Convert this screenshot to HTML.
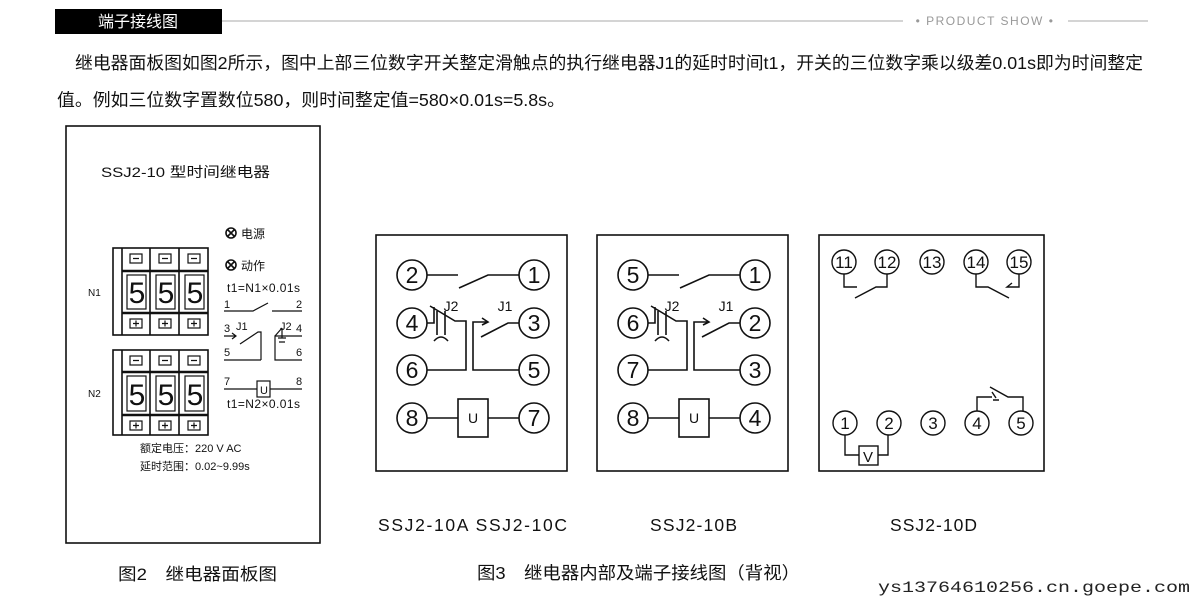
<!DOCTYPE html>
<html><head><meta charset="utf-8"><style>
html,body{margin:0;padding:0;background:#fff;width:1200px;height:603px;overflow:hidden}
svg text{font-family:"Liberation Sans","Noto Sans CJK SC",sans-serif;fill:#111}
</style></head><body>
<svg width="1200" height="603" viewBox="0 0 1200 603" xmlns="http://www.w3.org/2000/svg">
<defs>
<g id="AL" stroke="#111" fill="none" stroke-width="1.6">
<rect x="376" y="235" width="191" height="236"/>
<path d="M427 275H458M459 288L488 275H519"/>
<path d="M427 323H434V307M430 306L455 321H466V370H427"/>
<path d="M437 311V335M445 311V335M434 341q7-8 14 0"/>
<path d="M519 323H508L481 337M519 370H473V322H488M482 318l6 4-6 3"/>
<path d="M427 418H458M488 418H519"/><rect x="458" y="399" width="30" height="38"/>
<circle cx="412" cy="275" r="15"/><circle cx="534" cy="275" r="15"/>
<circle cx="412" cy="323" r="15"/><circle cx="534" cy="323" r="15"/>
<circle cx="412" cy="370" r="15"/><circle cx="534" cy="370" r="15"/>
<circle cx="412" cy="418" r="15"/><circle cx="534" cy="418" r="15"/>
</g>
</defs>
<rect x="55" y="9" width="167" height="25" fill="#000"/>
<text x="138" y="27" font-size="16" text-anchor="middle" style="fill:#fff">端子接线图</text>
<line x1="222" y1="21" x2="903" y2="21" stroke="#bbb" stroke-width="1.2"/>
<text x="985" y="25" font-size="12" text-anchor="middle" style="fill:#999;letter-spacing:1.5px">• PRODUCT SHOW •</text>
<line x1="1068" y1="21" x2="1148" y2="21" stroke="#bbb" stroke-width="1.2"/>
<text x="75" y="69" font-size="17.5" textLength="1068" lengthAdjust="spacingAndGlyphs">继电器面板图如图2所示，图中上部三位数字开关整定滑触点的执行继电器J1的延时时间t1，开关的三位数字乘以级差0.01s即为时间整定</text>
<text x="57" y="106" font-size="17.5" textLength="508" lengthAdjust="spacingAndGlyphs">值。例如三位数字置数位580，则时间整定值=580×0.01s=5.8s。</text>

<g stroke="#111" fill="none" stroke-width="1.6">
<rect x="66" y="126" width="254" height="417"/>
<rect x="113" y="248" width="95" height="87"/>
<line x1="122" y1="248" x2="122" y2="335"/>
<line x1="150" y1="248" x2="150" y2="335"/><line x1="179" y1="248" x2="179" y2="335"/>
<line x1="122" y1="271" x2="208" y2="271" stroke-width="2.5"/><line x1="122" y1="313" x2="208" y2="313" stroke-width="2.5"/>
<rect x="113" y="350" width="95" height="85"/>
<line x1="122" y1="350" x2="122" y2="435"/>
<line x1="150" y1="350" x2="150" y2="435"/><line x1="179" y1="350" x2="179" y2="435"/>
<line x1="122" y1="372" x2="208" y2="372" stroke-width="2.5"/><line x1="122" y1="415" x2="208" y2="415" stroke-width="2.5"/>
<g stroke-width="1.2">
<rect x="130" y="254" width="12" height="9"/><rect x="159" y="254" width="12" height="9"/><rect x="188" y="254" width="12" height="9"/>
<rect x="130" y="319" width="12" height="9"/><rect x="159" y="319" width="12" height="9"/><rect x="188" y="319" width="12" height="9"/>
<rect x="130" y="356" width="12" height="9"/><rect x="159" y="356" width="12" height="9"/><rect x="188" y="356" width="12" height="9"/>
<rect x="130" y="421" width="12" height="9"/><rect x="159" y="421" width="12" height="9"/><rect x="188" y="421" width="12" height="9"/>
<rect x="127" y="275" width="19" height="34"/><rect x="156" y="275" width="19" height="34"/><rect x="185" y="275" width="19" height="34"/>
<rect x="127" y="376" width="19" height="35"/><rect x="156" y="376" width="19" height="35"/><rect x="185" y="376" width="19" height="35"/>
<path d="M133 258.5h6M162 258.5h6M191 258.5h6M133 360.5h6M162 360.5h6M191 360.5h6"/>
<path d="M133 323.5h6M136 320.5v6M162 323.5h6M165 320.5v6M191 323.5h6M194 320.5v6"/>
<path d="M133 425.5h6M136 422.5v6M162 425.5h6M165 422.5v6M191 425.5h6M194 422.5v6"/>
</g>
<circle cx="231" cy="233" r="5"/><path d="M227.5 229.5l7 7M234.5 229.5l-7 7"/>
<circle cx="231" cy="265" r="5"/><path d="M227.5 261.5l7 7M234.5 261.5l-7 7"/>
<g stroke-width="1.2">
<path d="M224 311H253L268 303M272 311H302"/>
<path d="M224 336H236M232 333l4 3-4 3M240 344L258 332H261V360"/><path d="M224 360H261"/>
<path d="M302 336H275V360H302"/><path d="M275 336l7 -8M282 328v10M278 338h8M279 342h6"/>
<path d="M224 389H257M270 389H302"/><rect x="257" y="381" width="13" height="16"/>
</g>
</g>
<g font-size="30" text-anchor="middle">
<text x="137" y="303">5</text><text x="166" y="303">5</text><text x="195" y="303">5</text>
<text x="137" y="405">5</text><text x="166" y="405">5</text><text x="195" y="405">5</text>
</g>
<text x="101" y="177" font-size="14" textLength="169" lengthAdjust="spacingAndGlyphs">SSJ2-10 型时间继电器</text>
<text x="88" y="296" font-size="10">N1</text><text x="88" y="397" font-size="10">N2</text>
<text x="241" y="238" font-size="12">电源</text><text x="241" y="270" font-size="12">动作</text>
<text x="227" y="292" font-size="12" textLength="73">t1=N1×0.01s</text>
<text x="227" y="408" font-size="12" textLength="73">t1=N2×0.01s</text>
<g font-size="11"><text x="224" y="308">1</text><text x="296" y="308">2</text>
<text x="224" y="332">3</text><text x="236" y="330">J1</text><text x="280" y="330">J2</text><text x="296" y="332">4</text>
<text x="224" y="356">5</text><text x="296" y="356">6</text><text x="224" y="385">7</text><text x="296" y="385">8</text>
<text x="260" y="394">U</text></g>
<text x="140" y="452" font-size="11">额定电压：220 V AC</text>
<text x="140" y="470" font-size="11">延时范围：0.02~9.99s</text>
<text x="118" y="580" font-size="17" textLength="159" lengthAdjust="spacingAndGlyphs">图2　继电器面板图</text>

<use href="#AL"/>
<use href="#AL" x="221"/>
<g font-size="23" text-anchor="middle">
<text x="412" y="283">2</text><text x="534" y="283">1</text><text x="412" y="331">4</text><text x="534" y="331">3</text>
<text x="412" y="378">6</text><text x="534" y="378">5</text><text x="412" y="426">8</text><text x="534" y="426">7</text>
<text x="473" y="423" font-size="14">U</text>
<text x="451" y="311" font-size="14">J2</text><text x="505" y="311" font-size="14">J1</text>
<text x="633" y="283">5</text><text x="755" y="283">1</text><text x="633" y="331">6</text><text x="755" y="331">2</text>
<text x="633" y="378">7</text><text x="755" y="378">3</text><text x="633" y="426">8</text><text x="755" y="426">4</text>
<text x="694" y="423" font-size="14">U</text>
<text x="672" y="311" font-size="14">J2</text><text x="726" y="311" font-size="14">J1</text>
</g>

<g stroke="#111" fill="none" stroke-width="1.4">
<rect x="819" y="235" width="225" height="236" stroke-width="1.6"/>
<circle cx="844" cy="262" r="12"/><circle cx="887" cy="262" r="12"/><circle cx="932" cy="262" r="12"/><circle cx="976" cy="262" r="12"/><circle cx="1019" cy="262" r="12"/>
<circle cx="845" cy="423" r="12"/><circle cx="889" cy="423" r="12"/><circle cx="933" cy="423" r="12"/><circle cx="977" cy="423" r="12"/><circle cx="1021" cy="423" r="12"/>
<path d="M844 274V287H857M887 274V287H876L855 298"/>
<path d="M976 274V287H988L1009 298M1019 274V287H1007l5-4"/>
<path d="M845 435V455H859M878 455H888V435"/><rect x="859" y="446" width="19" height="19"/>
<path d="M977 411V397H992M990 387L1008 397H1023V411M992 392l4 6M993 400h6"/>
</g>
<g font-size="17" text-anchor="middle">
<text x="844" y="268">11</text><text x="887" y="268">12</text><text x="932" y="268">13</text><text x="976" y="268">14</text><text x="1019" y="268">15</text>
<text x="845" y="429">1</text><text x="889" y="429">2</text><text x="933" y="429">3</text><text x="977" y="429">4</text><text x="1021" y="429">5</text>
<text x="868" y="462" font-size="15">V</text>
</g>
<g font-size="17.5">
<text x="378" y="531" textLength="189" lengthAdjust="spacing">SSJ2-10A  SSJ2-10C</text>
<text x="650" y="531" textLength="87">SSJ2-10B</text>
<text x="890" y="531" textLength="87">SSJ2-10D</text>
<text x="477" y="579" textLength="323" lengthAdjust="spacingAndGlyphs">图3　继电器内部及端子接线图（背视）</text>
</g>
<text x="878" y="592" font-size="16" textLength="312" lengthAdjust="spacingAndGlyphs" style="font-family:'Liberation Mono',monospace;fill:#222">ys13764610256.cn.goepe.com</text>
</svg>
</body></html>
